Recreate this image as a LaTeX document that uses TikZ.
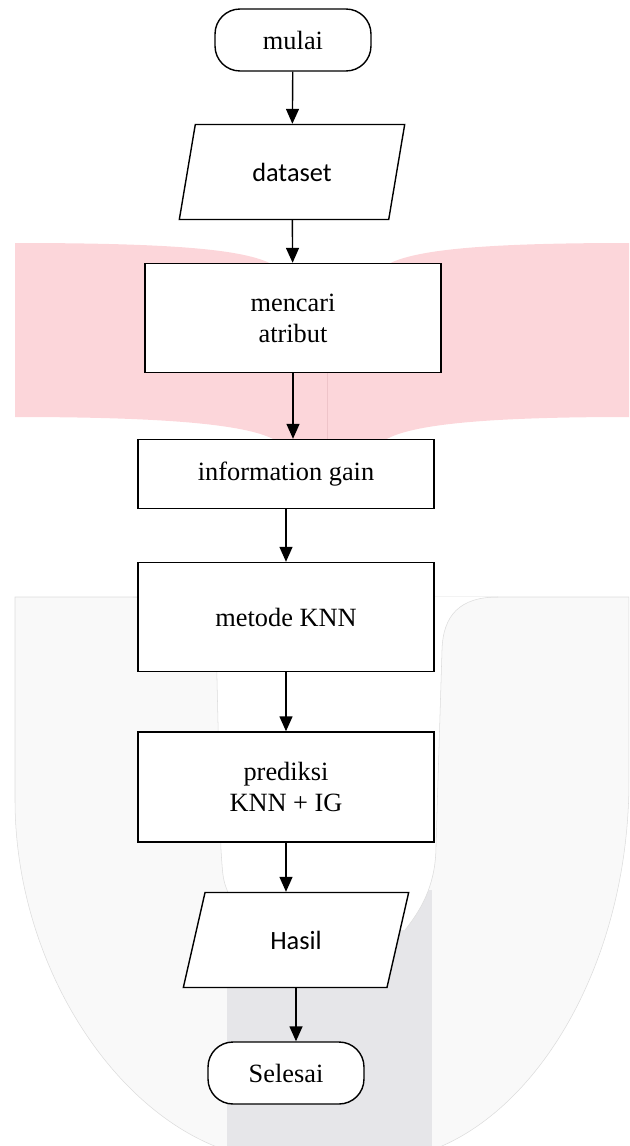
\documentclass[tikz,border=0pt]{standalone}
\usepackage{fontspec}
\setmainfont{Liberation Serif}
\newfontfamily\calibri{Carlito}
\usetikzlibrary{arrows.meta,shapes.geometric}
\definecolor{wmpink}{RGB}{252,214,218}
\definecolor{wmseam}{RGB}{238,196,201}
\definecolor{wmlight}{RGB}{249,249,249}
\definecolor{wmline}{RGB}{220,220,220}
\definecolor{wmband}{RGB}{230,230,233}
\begin{document}
\begin{tikzpicture}[x=0.02cm, y=-0.02cm,
    box/.style={draw, line width=0.8pt, fill=white, minimum width=5.92cm, align=center, font=\fontsize{15}{17.6}\selectfont},
    terminal/.style={draw, line width=0.8pt, fill=white, rounded corners=0.5cm, minimum width=3.12cm, minimum height=1.24cm, font=\fontsize{15}{18}\selectfont},
    io/.style={draw, line width=0.8pt, fill=white, trapezium, trapezium left angle=76, trapezium right angle=104, trapezium stretches=true, minimum width=4.52cm, minimum height=1.9cm, font=\calibri\fontsize{15}{18}\selectfont},
    flow/.style={line width=0.8pt, -{Triangle[length=0.3cm, width=0.26cm]}}]
            \useasboundingbox (0,0) rectangle (629,1146);
            \begin{scope}
            \clip (0,0) rectangle (629,1146);
            \fill[wmpink] (15,243) .. controls (180,243) and (250,250) .. (275,266) -- (385,266) .. controls (410,250) and (480,243) .. (629,243) -- (629,417) .. controls (480,417) and (410,425) .. (385,440) -- (275,440) .. controls (250,426) and (180,417) .. (15,417) -- cycle;
            \draw[wmseam] (327,373) -- (327,440);
            \filldraw[fill=wmlight, draw=wmline, line width=0.3pt] (15,597) -- (629,597) -- (629,780) .. controls (629,960) and (540,1110) .. (432,1150) -- (225,1150) .. controls (110,1110) and (15,960) .. (15,800) -- cycle;
            \fill[wmband] (227,890) rectangle (432,1150);
            \fill[white] (133,597) .. controls (200,600) and (217,630) .. (217,680) -- (221,850) .. controls (223,880) .. (229,895) -- (229,930) -- (405,930) .. controls (425,905) and (436,880) .. (436,845) -- (442,650) .. controls (443,615) and (460,597) .. (498,597) -- cycle;
            \draw[wmline, line width=0.3pt] (133,597) .. controls (200,600) and (217,630) .. (217,680) -- (221,850) .. controls (223,880) .. (229,895);
            \draw[wmline, line width=0.3pt] (405,930) .. controls (425,905) and (436,880) .. (436,845) -- (442,650) .. controls (443,615) and (460,597) .. (498,597);
            \end{scope}
            \node[terminal] (mulai) at (293,40) {mulai};
            \node[io] (dataset) at (292,172) {dataset};
            \node[box, minimum height=2.18cm] (atribut) at (293,318) {mencari\\atribut};
            \node[box, minimum height=1.38cm] (gain) at (286,474) {information gain};
            \node[box, minimum height=2.18cm] (knn) at (286,617) {metode KNN};
            \node[box, minimum height=2.2cm] (prediksi) at (286,787) {prediksi\\KNN + IG};
            \node[io] (hasil) at (296,940) {Hasil};
            \node[terminal] (selesai) at (286,1073) {Selesai};
            \draw[flow] (mulai) -- (dataset);
            \draw[flow] (dataset) -- (atribut);
            \draw[flow] (atribut.south) -- (atribut.south |- gain.north);
            \draw[flow] (gain) -- (knn);
            \draw[flow] (knn) -- (prediksi);
            \draw[flow] (prediksi.south) -- (prediksi.south |- hasil.north);
            \draw[flow] (hasil.south) -- (hasil.south |- selesai.north);
        \end{tikzpicture}
\end{document}
